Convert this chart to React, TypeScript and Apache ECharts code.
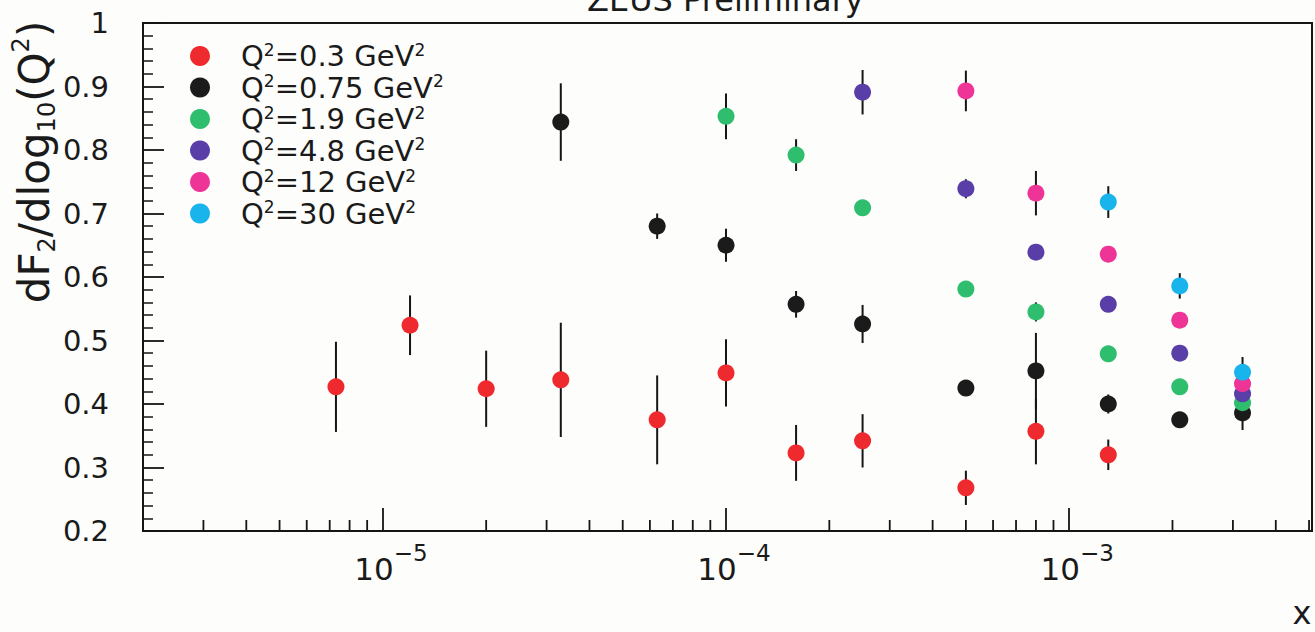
import React, { useEffect, useRef } from "react";
import * as echarts from "echarts";

// ---------- data ----------
const Q2_VALUES = ["0.3", "0.75", "1.9", "4.8", "12", "30"];
const COLORS = ["#ee2a2e", "#1b1b1b", "#2fbd6e", "#5a3ea8", "#ee3497", "#1ab4ec"];

const X_Q03 = [7.3e-6, 1.2e-5, 2.0e-5, 3.3e-5, 6.3e-5, 1.0e-4, 1.6e-4, 2.5e-4, 5.0e-4, 8.0e-4, 1.3e-3];
const Y_Q03 = [0.427, 0.524, 0.424, 0.438, 0.375, 0.449, 0.323, 0.342, 0.268, 0.357, 0.32];
const E_Q03 = [0.071, 0.047, 0.06, 0.09, 0.07, 0.053, 0.044, 0.042, 0.027, 0.052, 0.024];

const X_Q075 = [3.3e-5, 6.3e-5, 1.0e-4, 1.6e-4, 2.5e-4, 5.0e-4, 8.0e-4, 1.3e-3, 2.1e-3, 3.2e-3];
const Y_Q075 = [0.844, 0.68, 0.65, 0.557, 0.526, 0.425, 0.452, 0.4, 0.375, 0.386];
const E_Q075 = [0.061, 0.02, 0.026, 0.021, 0.03, 0.01, 0.06, 0.015, 0.012, 0.027];

const X_Q19 = [1.0e-4, 1.6e-4, 2.5e-4, 5.0e-4, 8.0e-4, 1.3e-3, 2.1e-3, 3.2e-3];
const Y_Q19 = [0.853, 0.792, 0.709, 0.581, 0.545, 0.479, 0.427, 0.402];
const E_Q19 = [0.036, 0.025, 0.01, 0.01, 0.015, 0.008, 0.008, 0.01];

const X_Q48 = [2.5e-4, 5.0e-4, 8.0e-4, 1.3e-3, 2.1e-3, 3.2e-3];
const Y_Q48 = [0.891, 0.739, 0.639, 0.557, 0.48, 0.416];
const E_Q48 = [0.035, 0.015, 0.012, 0.008, 0.008, 0.01];

const X_Q12 = [5.0e-4, 8.0e-4, 1.3e-3, 2.1e-3, 3.2e-3];
const Y_Q12 = [0.893, 0.732, 0.636, 0.532, 0.432];
const E_Q12 = [0.032, 0.035, 0.012, 0.008, 0.01];

const X_Q30 = [1.3e-3, 2.1e-3, 3.2e-3];
const Y_Q30 = [0.718, 0.586, 0.45];
const E_Q30 = [0.025, 0.02, 0.024];

const X_LIST = [X_Q03, X_Q075, X_Q19, X_Q48, X_Q12, X_Q30];
const Y_LIST = [Y_Q03, Y_Q075, Y_Q19, Y_Q48, Y_Q12, Y_Q30];
const E_LIST = [E_Q03, E_Q075, E_Q19, E_Q48, E_Q12, E_Q30];

const X_MIN = 2e-6;
const X_MAX = 5.1e-3;
const Y_MIN = 0.2;
const Y_MAX = 1;
const Y_STEP = 0.1;

const FONT = "DejaVu Sans";
const INK = "#1a1a1a";

// minor log ticks 2..9 x 10^k inside the x range
const MINOR_X: number[] = [];
for (let k = -6; k <= -3; k++) {
  for (let m = 2; m <= 9; m++) {
    const v = m * Math.pow(10, k);
    if (v > X_MIN * 1.01 && v < X_MAX * 0.99) MINOR_X.push(v);
  }
}

const seriesName = (q: string) => `Q²=${q} GeV²`;

export default function App() {
  const ref = useRef<HTMLDivElement>(null);

  useEffect(() => {
    if (!ref.current) return;
    const chart = echarts.init(ref.current, undefined, { renderer: "svg" });

    const scatterSeries = Q2_VALUES.map((q, i) => ({
      name: seriesName(q),
      type: "scatter",
      symbol: "circle",
      symbolSize: 17,
      z: 5,
      itemStyle: { color: COLORS[i], opacity: 1 },
      data: X_LIST[i].map((x, j) => [x, Y_LIST[i][j]]),
    }));

    const errorSeries = Q2_VALUES.map((q, i) => ({
      name: seriesName(q),
      type: "custom",
      z: 3,
      silent: true,
      encode: { x: 0, y: [1, 2] },
      data: X_LIST[i].map((x, j) => [x, Y_LIST[i][j] - E_LIST[i][j], Y_LIST[i][j] + E_LIST[i][j]]),
      renderItem: (params: any, api: any) => {
        const x = api.value(0);
        const p1 = api.coord([x, api.value(1)]);
        const p2 = api.coord([x, api.value(2)]);
        return {
          type: "line",
          shape: { x1: p1[0], y1: p1[1], x2: p2[0], y2: p2[1] },
          style: { stroke: "#151515", lineWidth: 2 },
        };
      },
    }));

    const minorTickSeries = {
      name: "minor-ticks",
      type: "custom",
      silent: true,
      z: 2,
      encode: { x: 0, y: 1 },
      data: MINOR_X.map((v) => [v, Y_MIN]),
      renderItem: (params: any, api: any) => {
        const p = api.coord([api.value(0), api.value(1)]);
        return {
          type: "line",
          shape: { x1: p[0], y1: p[1], x2: p[0], y2: p[1] - 11 },
          style: { stroke: "#151515", lineWidth: 1.8 },
        };
      },
    };

    const option: any = {
      animation: false,
      backgroundColor: "#fdfdfb",
      title: {
        text: "ZEUS Preliminary",
        left: 587,
        top: -16,
        padding: 0,
        textStyle: { fontFamily: FONT, fontSize: 32, fontWeight: "normal", color: INK },
      },
      legend: {
        orient: "vertical",
        left: 190,
        top: 41,
        padding: 0,
        itemGap: 2,
        itemWidth: 20,
        itemHeight: 20,
        icon: "circle",
        selectedMode: false,
        data: Q2_VALUES.map(seriesName),
        formatter: (name: string) => {
          const q = Q2_VALUES.find((v) => seriesName(v) === name) || "";
          return `{t|Q}{s|2}{t|=${q} GeV}{s|2}`;
        },
        textStyle: {
          fontFamily: FONT,
          fontSize: 29,
          color: INK,
          padding: [0, 0, 0, 26],
          rich: {
            t: { fontFamily: FONT, fontSize: 29, lineHeight: 30, color: INK },
            s: { fontFamily: FONT, fontSize: 17, lineHeight: 17, verticalAlign: "top", color: INK },
          },
        },
      },
      grid: {
        left: 143,
        right: 3,
        top: 23,
        bottom: 101,
        show: true,
        borderColor: "#151515",
        borderWidth: 2,
        backgroundColor: "transparent",
        outerBoundsMode: "none",
      },
      xAxis: {
        type: "log",
        logBase: 10,
        min: X_MIN,
        max: X_MAX,
        axisLine: { show: true, lineStyle: { color: "#151515", width: 2 } },
        axisTick: { show: true, inside: true, length: 23, lineStyle: { color: "#151515", width: 1.8 } },
        minorTick: { show: false },
        splitLine: { show: false },
        axisLabel: {
          showMinLabel: false,
          showMaxLabel: false,
          margin: 10,
          padding: [0, 0, 0, 16],
          formatter: (v: number) => {
            const e = Math.log10(v);
            const r = Math.round(e);
            if (Math.abs(e - r) > 1e-6) return "";
            return `{b|10}{s|${r < 0 ? "−" + Math.abs(r) : r}}`;
          },
          rich: {
            b: { fontFamily: FONT, fontSize: 31, lineHeight: 56, verticalAlign: "middle", color: INK },
            s: { fontFamily: FONT, fontSize: 23, lineHeight: 22, verticalAlign: "top", color: INK },
          },
        },
      },
      yAxis: {
        type: "value",
        min: Y_MIN,
        max: Y_MAX,
        interval: Y_STEP,
        axisLine: { show: true, lineStyle: { color: "#151515", width: 2 } },
        axisTick: { show: true, inside: true, length: 21, lineStyle: { color: "#151515", width: 1.8 } },
        minorTick: { show: true, splitNumber: 5, length: 10, lineStyle: { color: "#151515", width: 1.5 } },
        splitLine: { show: false },
        axisLabel: {
          margin: 34,
          fontFamily: FONT,
          fontSize: 29,
          color: INK,
          formatter: (v: number) => (Math.abs(v - 1) < 1e-9 ? "1" : v.toFixed(1)),
        },
      },
      graphic: [
        {
          type: "text",
          x: 34,
          y: 162,
          rotation: Math.PI / 2,
          silent: true,
          style: {
            text: "{t|dF}{sb|2}{t|/dlog}{sb|10}{t|(Q}{sp|2}{t|)}",
            align: "center",
            verticalAlign: "middle",
            fill: INK,
            rich: {
              t: { fontFamily: FONT, fontSize: 42, lineHeight: 50, verticalAlign: "middle", fill: INK },
              sb: { fontFamily: FONT, fontSize: 24, lineHeight: 24, verticalAlign: "bottom", fill: INK },
              sp: { fontFamily: FONT, fontSize: 24, lineHeight: 24, verticalAlign: "top", fill: INK },
            },
          },
        },
        {
          type: "text",
          x: 1302,
          y: 613,
          silent: true,
          style: {
            text: "x",
            align: "center",
            verticalAlign: "middle",
            fontFamily: FONT,
            fontSize: 32,
            fill: INK,
          },
        },
      ],
      series: [...scatterSeries, ...errorSeries, minorTickSeries],
    };

    chart.setOption(option);
    return () => chart.dispose();
  }, []);

  return (
    <div
      ref={ref}
      style={{ position: "fixed", left: 0, top: 0, width: 1315, height: 632 }}
    />
  );
}
